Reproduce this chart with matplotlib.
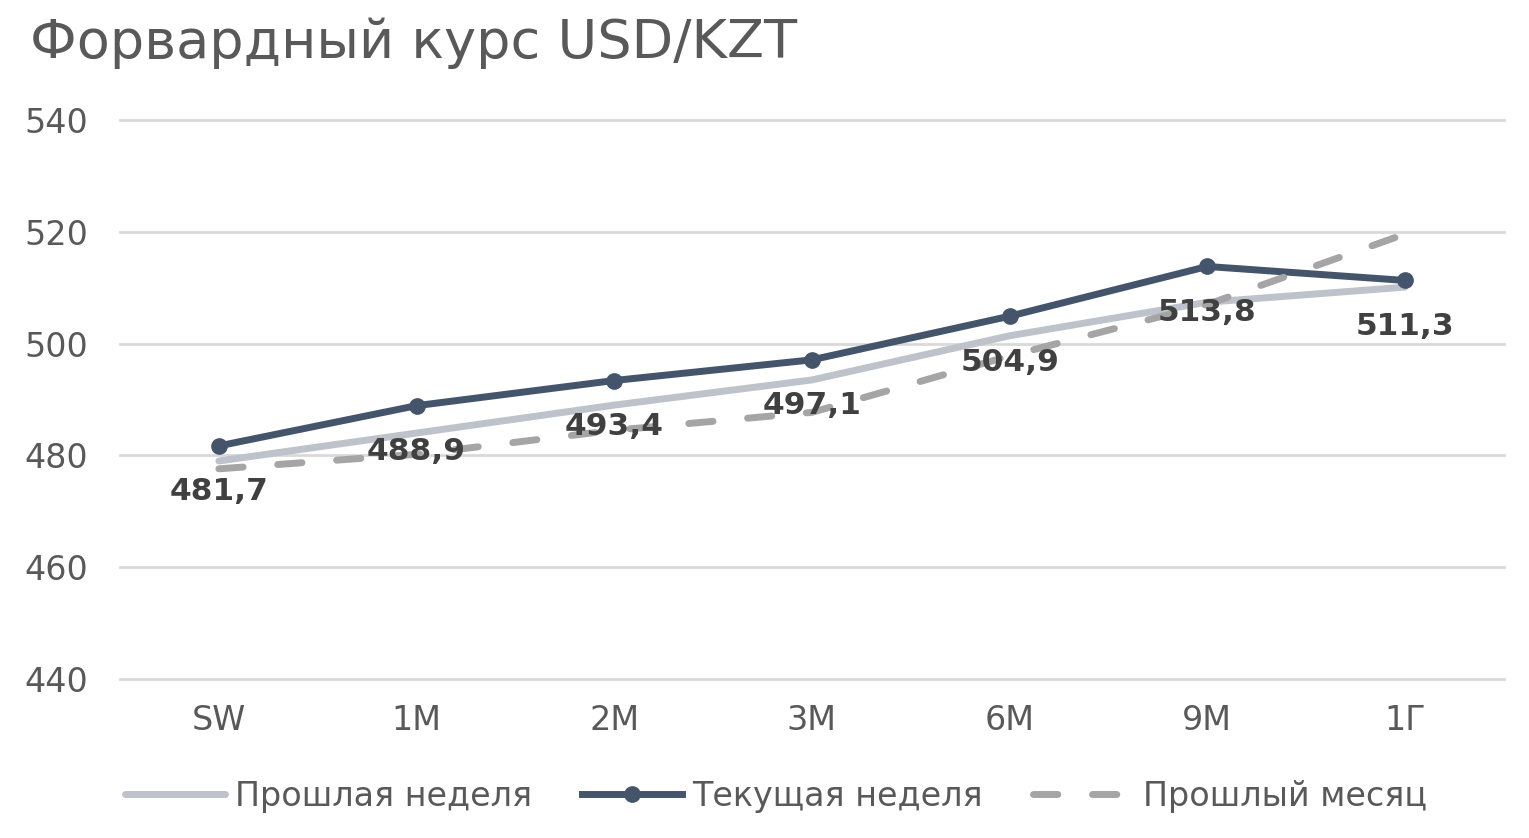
import matplotlib
matplotlib.use("Agg")
import matplotlib.pyplot as plt

plt.rcParams['font.family'] = ['DejaVu Sans']

tenors = ["SW", "1M", "2M", "3M", "6M", "9M", "1Г"]
last_week = [479.0, 484.0, 489.0, 493.5, 501.4, 507.4, 510.1]
this_week = [481.7, 488.9, 493.4, 497.1, 504.9, 513.8, 511.3]
last_month = [477.6, 480.2, 484.5, 487.7, 497.8, 507.0, 519.6]
yticks = [440, 460, 480, 500, 520, 540]

TXT = "#595959"
NAVY = "#44546A"
LIGHT = "#BEC3CB"
GRAY = "#A5A5A5"

fig = plt.figure(figsize=(15.29, 8.38), dpi=100)
ax = fig.add_axes([0.0785, 0.1897, 0.905, 0.6671])
x = range(len(tenors))

l1, = ax.plot(x, last_week, color=LIGHT, lw=5, solid_capstyle="round", zorder=3,
              label="Прошлая неделя", clip_on=False)
l2, = ax.plot(x, this_week, color=NAVY, lw=5, marker="o", ms=11, zorder=4,
              label="Текущая неделя", clip_on=False)
l3, = ax.plot(x, last_month, color=GRAY, lw=5, dashes=(3.5, 5), dash_capstyle="round",
              zorder=5, label="Прошлый месяц", clip_on=False)

# value labels under the current-week points
for i, v in enumerate(this_week):
    ax.annotate(f"{v:.1f}".replace(".", ","), (i, v), xytext=(0, -33),
                textcoords="offset points", ha="center", va="center",
                fontsize=22.5, fontweight="bold", color="#404040", zorder=6)

ax.set_xlim(-0.5, len(tenors) - 0.5)
ax.set_ylim(440, 540)
ax.set_yticks(yticks)
ax.set_xticks(list(x))
ax.set_xticklabels(tenors)
ax.tick_params(axis="both", length=0, labelsize=24, colors=TXT)
ax.tick_params(axis="x", pad=18)
ax.tick_params(axis="y", pad=23)
ax.grid(axis="y", color="#D9D9D9", lw=2)
for gl in ax.get_ygridlines():
    gl.set_clip_on(False)
ax.set_axisbelow(True)
for s in ax.spines.values():
    s.set_visible(False)

fig.text(30 / 1529, 1 - 43 / 838, "Форвардный курс USD/KZT", fontsize=39,
         color=TXT, va="center", ha="left")

fig.legend(handles=[l1, l2, l3], loc="center", bbox_to_anchor=(0.5075, 1 - 796 / 838),
           ncol=3, frameon=False, fontsize=24, labelcolor=TXT, handlelength=3.0,
           handletextpad=0.3, columnspacing=1.5)

fig.savefig("out.png", dpi=100)
